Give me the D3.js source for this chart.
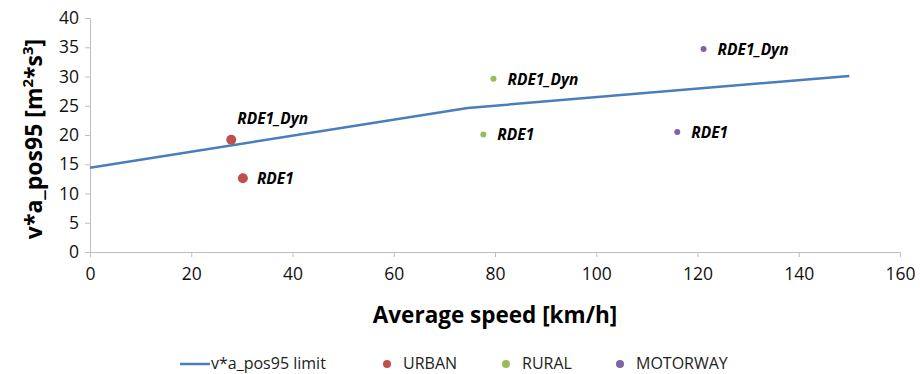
<!DOCTYPE html>
<html>
	<head>
		<meta charset="utf-8">
		<title>v*a_pos95 vs average speed</title>
		<style type="text/css">
			body{ margin:0; background:#fff; }
			#chart{ width:920px; height:374px; }
			text{ font-family:"Open Sans","DejaVu Sans",sans-serif; }
		</style>
	</head>
	<body>
		<div id="chart"></div>

	<script src="https://cdn.jsdelivr.net/npm/d3@7/dist/d3.min.js"></script>
	<script>
		// limit line (speed, value)
		var limitSpeed = [0, 74.6, 77, 150];
		var limitValue = [14.4, 24.6, 24.8, 30.1];

		// measured points
		var pointName  = ['RDE1_Dyn', 'RDE1', 'RDE1_Dyn', 'RDE1', 'RDE1_Dyn', 'RDE1'];
		var pointGroup = ['URBAN', 'URBAN', 'RURAL', 'RURAL', 'MOTORWAY', 'MOTORWAY'];
		var pointSpeed = [27.9, 30.2, 79.7, 77.7, 121.2, 116.0];
		var pointValue = [19.2, 12.6, 29.6, 20.1, 34.7, 20.5];
		var labelSide  = ['above', 'right', 'right', 'right', 'right', 'right'];

		var groups = ['URBAN', 'RURAL', 'MOTORWAY'];
		var groupColor = ['#C0504D', '#9BBB59', '#8064A2'];
		var groupRadius = [5, 3, 3];

		var xTicks = [0, 20, 40, 60, 80, 100, 120, 140, 160];
		var yTicks = [0, 5, 10, 15, 20, 25, 30, 35, 40];

		var svg = d3.select('#chart').append('svg')
				.attr('width', 920).attr('height', 374);

		var x = d3.scaleLinear().domain([0, 160]).range([90, 900]);
		var y = d3.scaleLinear().domain([0, 40]).range([252, 18]);

		function gi( g ){ return groups.indexOf(g); }

		// axes
		var xa = svg.append('g').attr('transform', 'translate(0,' + y(0) + ')')
			.call(d3.axisBottom(x).tickValues(xTicks).tickSize(5).tickPadding(11).tickSizeOuter(0));
		var ya = svg.append('g').attr('transform', 'translate(' + x(0) + ',0)')
			.call(d3.axisLeft(y).tickValues(yTicks).tickSize(5).tickPadding(6).tickSizeOuter(0));
		[xa, ya].forEach(function(a){
			a.select('.domain').attr('stroke', '#BFBFBF');
			a.selectAll('.tick line').attr('stroke', '#BFBFBF');
			a.selectAll('.tick text').attr('fill', '#111')
				.style('font-size', '17.5px').style('font-family', '"Open Sans",sans-serif');
		});

		// limit line
		var lineData = limitSpeed.map(function(s, i){ return [s, limitValue[i]]; });
		svg.append('path')
			.datum(lineData)
			.attr('fill', 'none')
			.attr('stroke', '#4A7EBB')
			.attr('stroke-width', 2.5)
			.attr('stroke-linejoin', 'round')
			.attr('d', d3.line()
				.x(function(d){ return x(d[0]); })
				.y(function(d){ return y(d[1]); }));

		// points
		var pts = pointName.map(function(n, i){
			return { name:n, group:pointGroup[i], sp:pointSpeed[i], v:pointValue[i], side:labelSide[i] };
		});
		svg.selectAll('.dot')
			.data(pts)
			.enter().append('circle')
			.attr('class', 'dot')
			.attr('cx', function(d){ return x(d.sp); })
			.attr('cy', function(d){ return y(d.v); })
			.attr('r', function(d){ return groupRadius[gi(d.group)]; })
			.style('fill', function(d){ return groupColor[gi(d.group)]; });

		svg.selectAll('.lbl')
			.data(pts)
			.enter().append('text')
			.attr('class', 'lbl')
			.attr('x', function(d){ return x(d.sp) + (d.side == 'above' ? 6 : 14); })
			.attr('y', function(d){ return y(d.v) + (d.side == 'above' ? -16 : 6); })
			.style('font-size', '15.5px')
			.style('font-weight', 'bold')
			.style('font-style', 'italic')
			.attr('fill', '#000')
			.text(function(d){ return d.name; });

		// axis titles
		svg.append('text')
			.attr('x', 495).attr('y', 323)
			.attr('text-anchor', 'middle')
			.style('font-size', '22.5px').style('font-weight', 'bold')
			.text('Average speed [km/h]');

		var yt = svg.append('text')
			.attr('transform', 'translate(42,139) rotate(-90)')
			.attr('text-anchor', 'middle')
			.style('font-size', '23px').style('font-weight', 'bold');
		yt.append('tspan').text('v*a_pos95 [m');
		yt.append('tspan').attr('dy', -9).style('font-size', '15px').text('2');
		yt.append('tspan').attr('dy', 9).text('*s');
		yt.append('tspan').attr('dy', -9).style('font-size', '15px').text('3');
		yt.append('tspan').attr('dy', 9).text(']');

		// legend
		var lg = svg.append('g').style('font-size', '16px');
		lg.append('line')
			.attr('x1', 180).attr('x2', 210).attr('y1', 364).attr('y2', 364)
			.attr('stroke', '#4A7EBB').attr('stroke-width', 2.5);
		lg.append('text').attr('x', 211).attr('y', 369).attr('fill', '#222').text('v*a_pos95 limit');
		var legX = [387, 506, 620];
		groups.forEach(function(g, i){
			lg.append('circle').attr('cx', legX[i]).attr('cy', 364).attr('r', 4).style('fill', groupColor[i]);
			lg.append('text').attr('x', legX[i] + 16).attr('y', 369).attr('fill', '#222').text(g);
		});
	</script>
	</body>
</html>
